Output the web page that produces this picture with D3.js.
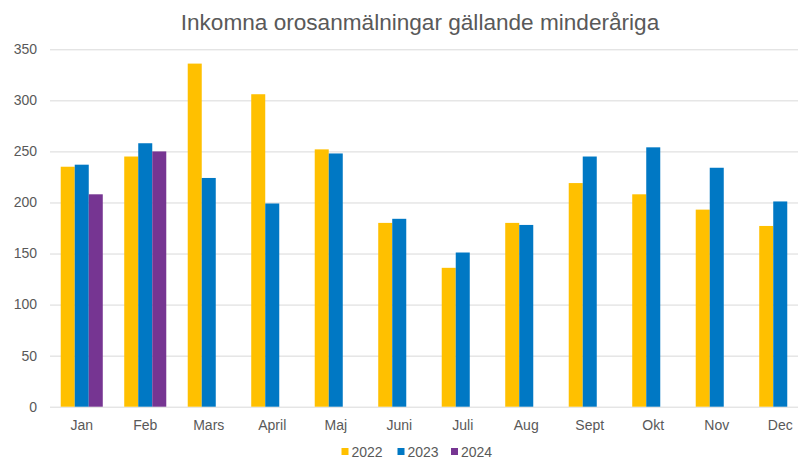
<!DOCTYPE html>
<html>
<head>
<meta charset="utf-8">
<script src="https://cdn.jsdelivr.net/npm/d3@7/dist/d3.min.js"></script>
<style>
  body { margin: 0; background: #fff; }
  svg { display: block; font-family: "Liberation Sans", Arial, sans-serif; }
  .grid line { stroke: #d9d9d9; stroke-width: 1; }
  .grid path { display: none; }
</style>
</head>
<body>
<div id="chart"></div>
<script>
var months = ["Jan", "Feb", "Mars", "April", "Maj", "Juni", "Juli", "Aug", "Sept", "Okt", "Nov", "Dec"];
var years = ["2022", "2023", "2024"];
var colors = ["#FFC000", "#0078C4", "#763592"];
var v2022 = [235, 245, 336, 306, 252, 180, 136, 180, 219, 208, 193, 177];
var v2023 = [237, 258, 224, 199, 248, 184, 151, 178, 245, 254, 234, 201];
var v2024 = [208, 250, null, null, null, null, null, null, null, null, null, null];
var yTicks = [0, 50, 100, 150, 200, 250, 300, 350];

var series = [v2022, v2023, v2024];
var w = 798, h = 459;

var svg = d3.select("#chart").append("svg")
    .attr("width", w)
    .attr("height", h);

// plot area (the reference is cropped on the right)
var plotLeft = 50, plotTop = 49.3, plotBottom = 406.7;
var step = 63.5;

var x = d3.scaleBand()
    .domain(months)
    .range([plotLeft, plotLeft + step * months.length])
    .paddingInner(0.338)
    .paddingOuter(0.169);

var xs = d3.scaleBand()
    .domain(years)
    .range([0, x.bandwidth()]);

var y = d3.scaleLinear()
    .domain([0, 350])
    .range([plotBottom, plotTop]);

//GRID
svg.append("g")
    .attr("class", "grid")
    .attr("transform", "translate(" + plotLeft + ",0)")
    .call(d3.axisLeft(y).tickValues(yTicks).tickFormat("").tickSize(-(w - plotLeft)));

//Y LABELS
svg.append("g")
    .selectAll("text")
    .data(yTicks)
    .enter().append("text")
    .attr("x", 37)
    .attr("y", function (d) { return y(d); })
    .attr("dy", "0.35em")
    .attr("text-anchor", "end")
    .attr("font-size", 14)
    .attr("fill", "#595959")
    .text(function (d) { return d; });

//BARS
series.forEach(function (vals, si) {
    svg.append("g")
        .selectAll("rect")
        .data(vals.map(function (v, i) { return { m: months[i], v: v }; })
            .filter(function (d) { return d.v != null; }))
        .enter().append("rect")
        .attr("x", function (d) { return x(d.m) + xs(years[si]); })
        .attr("y", function (d) { return y(d.v); })
        .attr("width", xs.bandwidth())
        .attr("height", function (d) { return y(0) - y(d.v); })
        .attr("fill", colors[si]);
});

//X LABELS
svg.append("g")
    .selectAll("text")
    .data(months)
    .enter().append("text")
    .attr("x", function (d) { return x(d) + x.bandwidth() / 2; })
    .attr("y", 430)
    .attr("text-anchor", "middle")
    .attr("font-size", 14)
    .attr("fill", "#595959")
    .text(function (d) { return d; });

//TITLE
svg.append("text")
    .attr("x", 420)
    .attr("y", 29.5)
    .attr("text-anchor", "middle")
    .attr("font-size", 22.6)
    .attr("fill", "#595959")
    .text("Inkomna orosanmälningar gällande minderåriga");

//LEGEND
var legendX = [341.5, 397.5, 451];
var legend = svg.append("g")
    .selectAll("g")
    .data(years)
    .enter().append("g")
    .attr("transform", function (d, i) { return "translate(" + legendX[i] + ",448)"; });

legend.append("rect")
    .attr("width", 7)
    .attr("height", 7)
    .attr("fill", function (d, i) { return colors[i]; });

legend.append("text")
    .attr("x", 10)
    .attr("y", 8.5)
    .attr("font-size", 14)
    .attr("fill", "#595959")
    .text(function (d) { return d; });
</script>
</body>
</html>
